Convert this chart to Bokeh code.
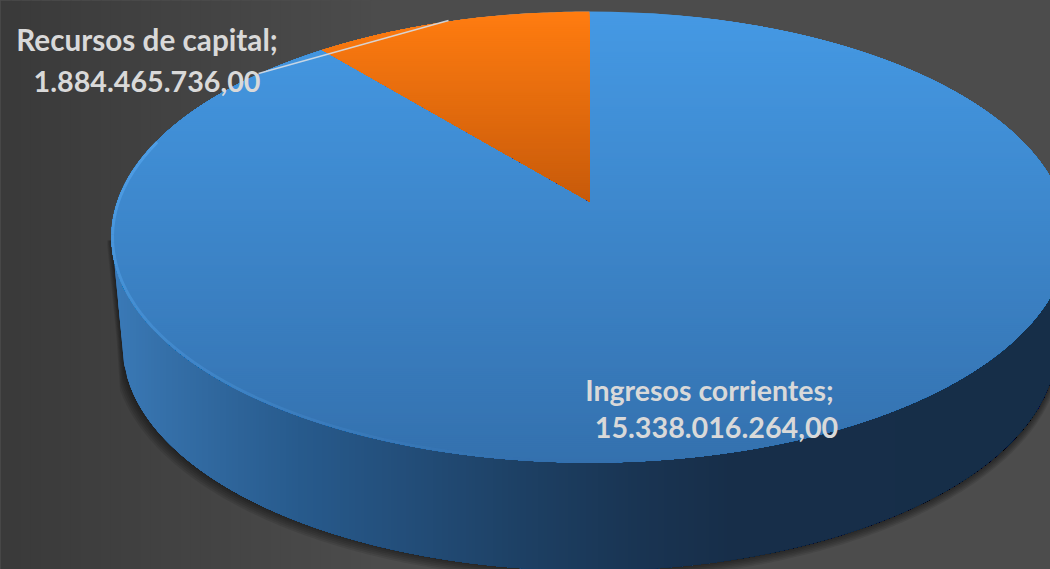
import numpy as np
from bokeh.plotting import figure
from bokeh.embed import file_html
from bokeh.resources import INLINE
from bokeh.core.properties import value

# ---- data
categories = ["Ingresos corrientes", "Recursos de capital"]
values = [15338016264.00, 1884465736.00]
value_labels = ["15.338.016.264,00", "1.884.465.736,00"]

# ---- layout and style
W, H = 1050, 569
CX, CY, A, B, K = 589.0, 201.0, 472.0, 219.9, 0.1574   # perspective of the pie disc
ECX, ECY, EA, EB = 589.0, 236.5, 478.0, 225.5           # top face outline
LCX, LCY, LA, LB = 589.0, 345.0, 467.0, 225.0           # bottom face outline
FONT = "Lato"
TEXT_COLOR = "#d9d9d9"


def hexc(g):
    return "#%02x%02x%02x" % tuple(int(round(c)) for c in g)


def ramp(t, tp, cols):
    c = np.array(cols, float)
    return hexc([np.interp(t, tp, c[:, i]) for i in range(3)])


def proj(theta):
    u, v = np.sin(theta), np.cos(theta)
    d = 1 + K * v
    return CX + A * u / d, CY - B * v / d


p = figure(width=W, height=H, x_range=(0, W), y_range=(H, 0), output_backend="svg",
           toolbar_location=None, min_border=0, outline_line_color=None)
p.axis.visible = False
p.grid.visible = False
p.background_fill_color = "#4c4c4c"
p.border_fill_color = "#4c4c4c"

# background: darker to the left
xs = np.arange(0, 380, 10)
p.quad(left=xs, right=xs + 11, top=0, bottom=H,
       fill_color=[hexc([58 + 18 * x / 380] * 3) for x in xs], line_color=None)


def ylow(x, dx=0.0, dy=0.0):
    x = np.asarray(x, float)
    left = LCX - LA
    t = np.clip((x - LCX) / (LA + dx), -1, 1)
    yb = LCY + dy + (LB + dy) * np.sqrt(1 - t ** 2)
    # straight left flank of the disc's side
    flank = 240 + (x - 111.5) / (left - 111.5) * (LCY - 240)
    return np.where(x < left, flank + dy, yb)


# soft shadow
for i in range(1, 7):
    x = np.linspace(111.5 - i * 0.8, LCX + LA + i, 300)
    y = ylow(x + i * 0.8 * (x < LCX), i * 0.8, i * 0.8)
    p.patch(list(x) + [x[-1], x[0]], list(y) + [240, 240], fill_color="#000000", fill_alpha=0.09, line_color=None)

# side wall: horizontal gradient, painted nested so there are no seams
side_x = [111, 150, 220, 300, 400, 520, 640, 730, 1056]
side_c = [(58, 122, 184), (54, 114, 172), (47, 102, 156), (39, 90, 140), (35, 78, 122),
          (29, 64, 100), (25, 52, 82), (23, 46, 73), (22, 46, 72)]
for xk in np.arange(111.5, 1056, 3.0):
    x = np.linspace(xk, LCX + LA, max(int((LCX + LA - xk) / 6), 3))
    y = ylow(x)
    p.patch(list(x) + [x[-1], xk], list(y) + [240, 240],
            fill_color=ramp(xk, side_x, side_c), line_color=None)

# top face: vertical gradient, nested the same way
top_y = [11, 462]
top_c = [(69, 153, 228), (52, 113, 174)]
for yk in np.arange(11.0, 462.0, 2.0):
    ph0 = np.arcsin(np.clip((yk - ECY) / EB, -1, 1))
    ph = np.linspace(ph0, np.pi - ph0, 140)
    p.patch(ECX + EA * np.cos(ph), ECY + EB * np.sin(ph),
            fill_color=ramp(yk, top_y, top_c), line_color=None)

# light rim along the lower left of the top face
ph = np.linspace(np.radians(205), np.radians(85), 60)
rx, ry = ECX + (EA - 1) * np.cos(ph), ECY + (EB - 1) * np.sin(ph)
p.multi_line([[rx[i], rx[i + 1]] for i in range(59)], [[ry[i], ry[i + 1]] for i in range(59)],
             line_color="#58a8f0", line_width=3,
             line_alpha=list(np.clip(np.linspace(1.0, -0.1, 59), 0, 1) * 0.6))

# the slice of "Recursos de capital", ends at the top of the pie
share = values[1] / sum(values)
th = np.linspace(0, -2 * np.pi * share, 80)
ax, ay = proj(th)
or_y = [11, 201]
or_c = [(255, 124, 16), (199, 90, 10)]
for yk in np.arange(11.0, 201.0, 2.0):
    if yk <= ay[-1]:
        # walk the arc back from the tip of the slice to its cut
        m = ay >= yk
        xl = np.interp(yk, ay, ax)
        px = [xl, CX, CX, ax[-1]] + list(ax[m][::-1])
        py = [yk, yk, CY, ay[-1]] + list(ay[m][::-1])
    else:
        f = (yk - ay[-1]) / (CY - ay[-1])
        xl = ax[-1] + f * (CX - ax[-1])
        px, py = [xl, CX, CX], [yk, yk, CY]
    p.patch(px, py, fill_color=ramp(yk, or_y, or_c), line_color=None)

# leader line
p.line([258, 448], [73, 20], line_color="#d5dde5", line_width=1.3, line_alpha=0.9)

# labels
for tx, ty, t, size in [(709, 389, categories[0] + ";", "28.5px"),
                        (146.5, 39, categories[1] + ";", "29.7px"),
                        (716, 427, value_labels[0], "28.7px"),
                        (146.5, 81, value_labels[1], "28.7px")]:
    p.text([tx], [ty], text=[t], text_font=value(FONT), text_font_style="bold", text_font_size=size,
           text_color=TEXT_COLOR, text_align="center", text_baseline="middle")

html = file_html(p, INLINE)
html = html.replace("<head>", "<head><style>html,body{margin:0;padding:0;overflow:hidden;background:#4c4c4c}</style>", 1)
open("out.html", "w").write(html)
